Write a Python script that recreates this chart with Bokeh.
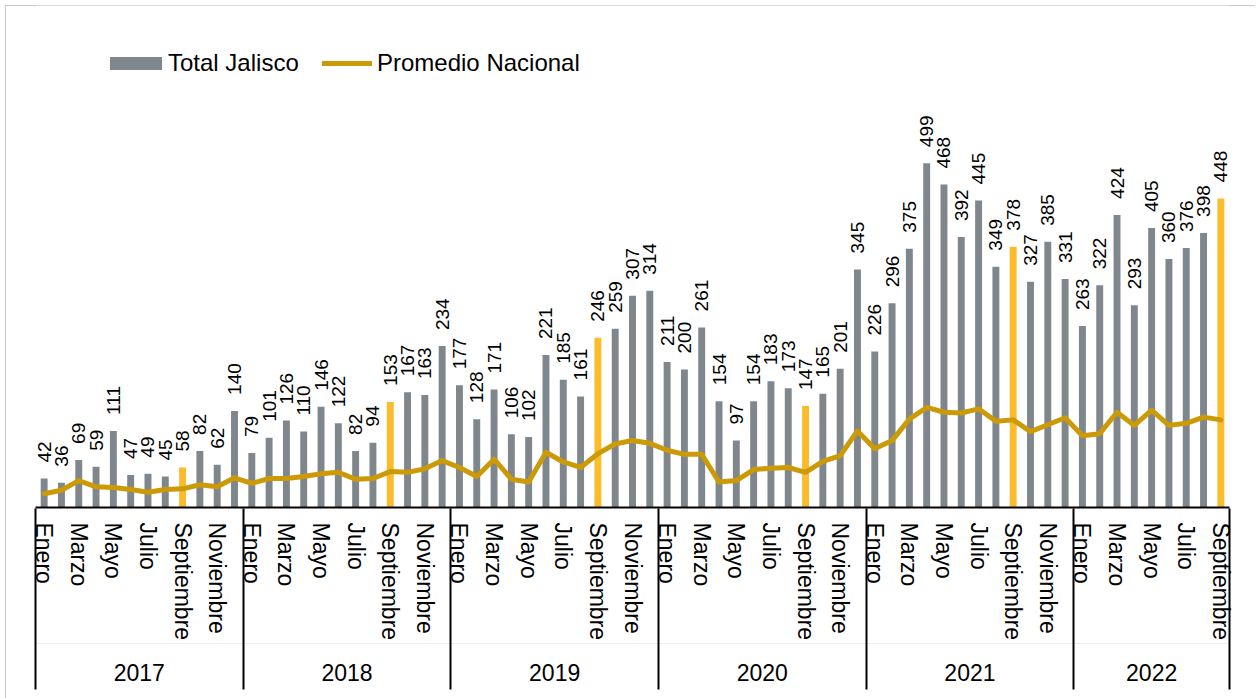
import numpy as np
from bokeh.plotting import figure
from bokeh.models import (ColumnDataSource, Range1d, LinearAxis, FixedTicker,
                          Legend, LegendItem)
from bokeh.core.properties import value
from bokeh.embed import file_html
from bokeh.resources import INLINE

# ---------------- data ----------------
years = ["2017", "2018", "2019", "2020", "2021", "2022"]
month_names = ["Enero", "Febrero", "Marzo", "Abril", "Mayo", "Junio", "Julio",
               "Agosto", "Septiembre", "Octubre", "Noviembre", "Diciembre"]
months_per_year = [12, 12, 12, 12, 12, 9]

total_jalisco = [
    42, 36, 69, 59, 111, 47, 49, 45, 58, 82, 62, 140,          # 2017
    79, 101, 126, 110, 146, 122, 82, 94, 153, 167, 163, 234,   # 2018
    177, 128, 171, 106, 102, 221, 185, 161, 246, 259, 307, 314,  # 2019
    211, 200, 261, 154, 97, 154, 183, 173, 147, 165, 201, 345,   # 2020
    226, 296, 375, 499, 468, 392, 445, 349, 378, 327, 385, 331,  # 2021
    263, 322, 424, 293, 405, 360, 376, 398, 448,                 # 2022
]

promedio_nacional = [
    20, 25, 39, 30, 29, 26, 22, 26, 27, 33, 30, 43,
    35, 42, 42, 45, 49, 51, 41, 42, 52, 51, 56, 68,
    58, 45, 70, 41, 37, 80, 66, 58, 78, 92, 97, 93,
    83, 77, 77, 37, 39, 55, 57, 58, 51, 67, 75, 111,
    85, 97, 128, 145, 138, 137, 143, 125, 127, 110, 120, 130,
    104, 107, 138, 119, 141, 119, 122, 131, 127,
]

highlight_month = "Septiembre"

# ---------------- derived ----------------
year_col, month_col = [], []
for y, n in zip(years, months_per_year):
    for m in month_names[:n]:
        year_col.append(y)
        month_col.append(m)
N = len(total_jalisco)
xs = list(range(N))

GRAY = "#7f878c"
YELLOW = "#fbbb2b"
GOLD = "#cc9a06"
FONT = "Liberation Sans"

colors = [YELLOW if m == highlight_month else GRAY for m in month_col]
src = ColumnDataSource(dict(x=xs, total=total_jalisco, prom=promedio_nacional,
                            color=colors, lbl=[str(v) for v in total_jalisco],
                            month=month_col, year=year_col))

# month ticks: every other month label
month_ticks = [i for i in xs if month_names.index(month_col[i]) % 2 == 0]
month_over = {i: month_col[i] for i in month_ticks}

# year boundaries and centers
bounds = [-0.5]
centers = []
start = 0
for n in months_per_year:
    centers.append(start + (n - 1) / 2)
    start += n
    bounds.append(start - 0.5)
year_over = {c: y for c, y in zip(centers, years)}

px_per_unit = 0.69
frame_h = 502

p = figure(width=1250, height=693, margin=(5, 0, 0, 5),
           x_range=Range1d(-0.5, N - 0.5), y_range=Range1d(0, frame_h / px_per_unit),
           x_axis_location=None, y_axis_location=None,
           toolbar_location=None, output_backend="svg",
           min_border_left=30, min_border_right=26, min_border_top=0,
           min_border_bottom=191, outline_line_color=None,
           background_fill_color="white", border_fill_color="white")
p.styles = {"outline": "2px solid #b4b4b4", "outline-offset": "-2px"}
for g in p.grid:
    g.visible = False

bars = p.vbar(x="x", top="total", width=0.4, source=src,
              fill_color="color", line_color=None)
line = p.line(x="x", y="prom", source=src, line_color=GOLD, line_width=5,
              line_join="round", line_cap="round")

p.text(x="x", y="total", text="lbl", source=src, angle=np.pi / 2,
       text_align="left", text_baseline="middle", y_offset=-16,
       text_font=value(FONT), text_font_size="19px", text_color="black")

month_axis = LinearAxis(
    ticker=FixedTicker(ticks=month_ticks, minor_ticks=[]),
    major_label_overrides=month_over,
    major_label_orientation="vertical",
    major_tick_line_color=None, major_tick_in=0, major_tick_out=0,
    minor_tick_line_color=None, minor_tick_in=0, minor_tick_out=0,
    axis_line_color="black", axis_line_width=2,
    major_label_standoff=15,
    major_label_text_font=FONT, major_label_text_font_size="23px",
    major_label_text_color="black")
p.add_layout(month_axis, "below")

year_axis = LinearAxis(
    ticker=FixedTicker(ticks=centers, minor_ticks=bounds),
    major_label_overrides=year_over,
    major_tick_line_color=None, major_tick_in=0, major_tick_out=0,
    minor_tick_line_color="black", minor_tick_line_width=2,
    minor_tick_in=135, minor_tick_out=46,
    axis_line_color="#ececec", axis_line_width=1,
    major_label_standoff=-26,
    major_label_text_font=FONT, major_label_text_font_size="23px",
    major_label_text_color="black")
p.add_layout(year_axis, "below")

legend_common = dict(orientation="horizontal", padding=0, margin=0,
                     border_line_color=None, background_fill_alpha=0,
                     label_text_font=FONT, label_text_font_size="24px",
                     label_text_color="black")
legend1 = Legend(items=[LegendItem(label="Total Jalisco", renderers=[bars], index=0)],
                 location=(68, 430), glyph_width=65, glyph_height=16,
                 label_standoff=0, **legend_common)
legend2 = Legend(items=[LegendItem(label="Promedio Nacional", renderers=[line])],
                 location=(287, 430), glyph_width=50, glyph_height=16,
                 label_standoff=5, **legend_common)
p.add_layout(legend1)
p.add_layout(legend2)

open("out.html", "w").write(file_html(p, INLINE))
